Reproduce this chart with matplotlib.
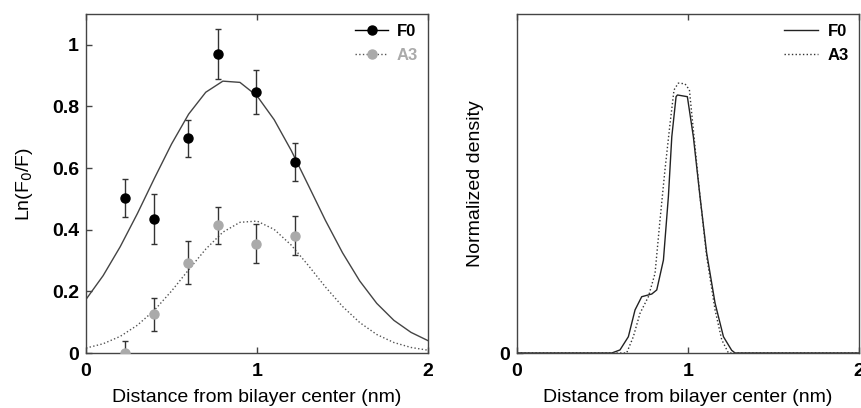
import numpy as np
import matplotlib
matplotlib.use("Agg")
import matplotlib.pyplot as plt

plt.rcParams['font.family'] = ['Liberation Sans', 'DejaVu Sans']

# quenching data, Ln(F0/F) vs depth
depth = [0.228, 0.397, 0.594, 0.769, 0.995, 1.219]
f0_vals = [0.504, 0.434, 0.697, 0.970, 0.847, 0.620]
f0_err = [0.062, 0.081, 0.060, 0.081, 0.072, 0.062]
a3_vals = [0.000, 0.125, 0.293, 0.414, 0.355, 0.380]
a3_err = [0.038, 0.052, 0.069, 0.059, 0.062, 0.063]

# fitted curves
fit_x = [0.0, 0.1, 0.2, 0.3, 0.4, 0.5, 0.6, 0.7, 0.8, 0.9, 1.0,
         1.1, 1.2, 1.3, 1.4, 1.5, 1.6, 1.7, 1.8, 1.9, 2.0]
fit_f0 = [0.174, 0.251, 0.345, 0.452, 0.567, 0.678, 0.775, 0.846, 0.882, 0.878, 0.834,
          0.757, 0.657, 0.544, 0.430, 0.325, 0.234, 0.161, 0.106, 0.067, 0.040]
fit_a3 = [0.016, 0.030, 0.054, 0.090, 0.139, 0.201, 0.270, 0.337, 0.392, 0.424, 0.428,
          0.401, 0.350, 0.284, 0.214, 0.151, 0.099, 0.060, 0.034, 0.018, 0.009]

# density profiles
dens_f0_x = [0.0, 0.554, 0.602, 0.651, 0.690, 0.729, 0.788, 0.817, 0.856, 0.885, 0.905,
             0.930, 0.938, 0.996, 1.031, 1.070, 1.109, 1.158, 1.207, 1.255, 1.275, 2.0]
dens_f0_y = [0.0, 0.0, 0.009, 0.048, 0.127, 0.166, 0.174, 0.186, 0.274, 0.461, 0.638,
             0.756, 0.761, 0.756, 0.638, 0.461, 0.294, 0.147, 0.048, 0.008, 0.0, 0.0]
dens_a3_x = [0.0, 0.641, 0.680, 0.719, 0.768, 0.807, 0.836, 0.865, 0.895, 0.918, 0.943,
             0.982, 1.008, 1.031, 1.070, 1.109, 1.158, 1.197, 1.236, 1.285, 2.0]
dens_a3_y = [0.0, 0.0, 0.048, 0.117, 0.166, 0.235, 0.392, 0.540, 0.678, 0.776, 0.796,
             0.794, 0.776, 0.658, 0.461, 0.284, 0.127, 0.039, 0.0, 0.0, 0.0]

fig = plt.figure(figsize=(8.62, 4.08), dpi=100)
ax1 = fig.add_axes([0.0998, 0.1348, 0.3968, 0.831])
ax2 = fig.add_axes([0.5998, 0.1348, 0.3968, 0.831])

# left panel
ax1.plot(fit_x, fit_f0, '-', color='#444444', lw=1.0, zorder=2)
ax1.plot(fit_x, fit_a3, ':', color='#555555', lw=1.0, zorder=2)
ax1.errorbar(depth, f0_vals, yerr=f0_err, fmt='none', ecolor='#333333',
             elinewidth=1.0, capsize=2.5, capthick=1.0, zorder=3)
ax1.errorbar(depth, a3_vals, yerr=a3_err, fmt='none', ecolor='#333333',
             elinewidth=1.0, capsize=2.5, capthick=1.0, zorder=3)
ax1.plot(depth, f0_vals, 'o', color='black', ms=6.5, zorder=4)
ax1.plot(depth, a3_vals, 'o', color='#aaaaaa', ms=6.5, zorder=4)

h1, = ax1.plot([], [], '-o', color='black', ms=6.5, lw=1.0)
h2, = ax1.plot([], [], ':o', color='#555555', ms=6.5, lw=1.0,
               mfc='#aaaaaa', mec='#aaaaaa')
leg1 = ax1.legend([h1, h2], ['F0', 'A3'], loc='upper right', frameon=False,
                  handlelength=2.0, handletextpad=0.5, labelspacing=0.55,
                  prop={'weight': 'bold', 'size': 12}, borderaxespad=0.2)
leg1.get_texts()[1].set_color('#aaaaaa')

ax1.set_xlim(0, 2)
ax1.set_ylim(0, 1.1)
ax1.set_xticks([0, 1, 2])
ax1.set_xticklabels(['0', '1', '2'])
ax1.set_yticks([0, 0.2, 0.4, 0.6, 0.8, 1.0])
ax1.set_yticklabels(['0', '0.2', '0.4', '0.6', '0.8', '1'])
ax1.set_xlabel('Distance from bilayer center (nm)', fontsize=14, labelpad=7)
ax1.set_ylabel('Ln(F$_0$/F)', fontsize=14, labelpad=12)

# right panel
ax2.plot(dens_f0_x, dens_f0_y, '-', color='#222222', lw=1.0, label='F0')
ax2.plot(dens_a3_x, dens_a3_y, ':', color='#333333', lw=1.0, label='A3')
ax2.legend(loc='upper right', frameon=False, handlelength=2.0,
           handletextpad=0.6, labelspacing=0.55,
           prop={'weight': 'bold', 'size': 12}, borderaxespad=0.2)
ax2.set_xlim(0, 2)
ax2.set_ylim(0, 1)
ax2.set_xticks([0, 1, 2])
ax2.set_xticklabels(['0', '1', '2'])
ax2.set_yticks([0])
ax2.set_yticklabels(['0'])
ax2.set_xlabel('Distance from bilayer center (nm)', fontsize=14, labelpad=7)
ax2.set_ylabel('Normalized density', fontsize=14, labelpad=11)

for ax in (ax1, ax2):
    for s in ax.spines.values():
        s.set_color('#444444')
        s.set_linewidth(1.0)
    ax.tick_params(direction='in', length=4, width=1, color='#444444',
                   top=True, labelsize=14)
    ax.tick_params(axis='x', pad=7)
    ax.tick_params(axis='y', pad=5)
    for lab in ax.get_xticklabels() + ax.get_yticklabels():
        lab.set_fontweight('bold')

fig.savefig('out.png', dpi=100)
